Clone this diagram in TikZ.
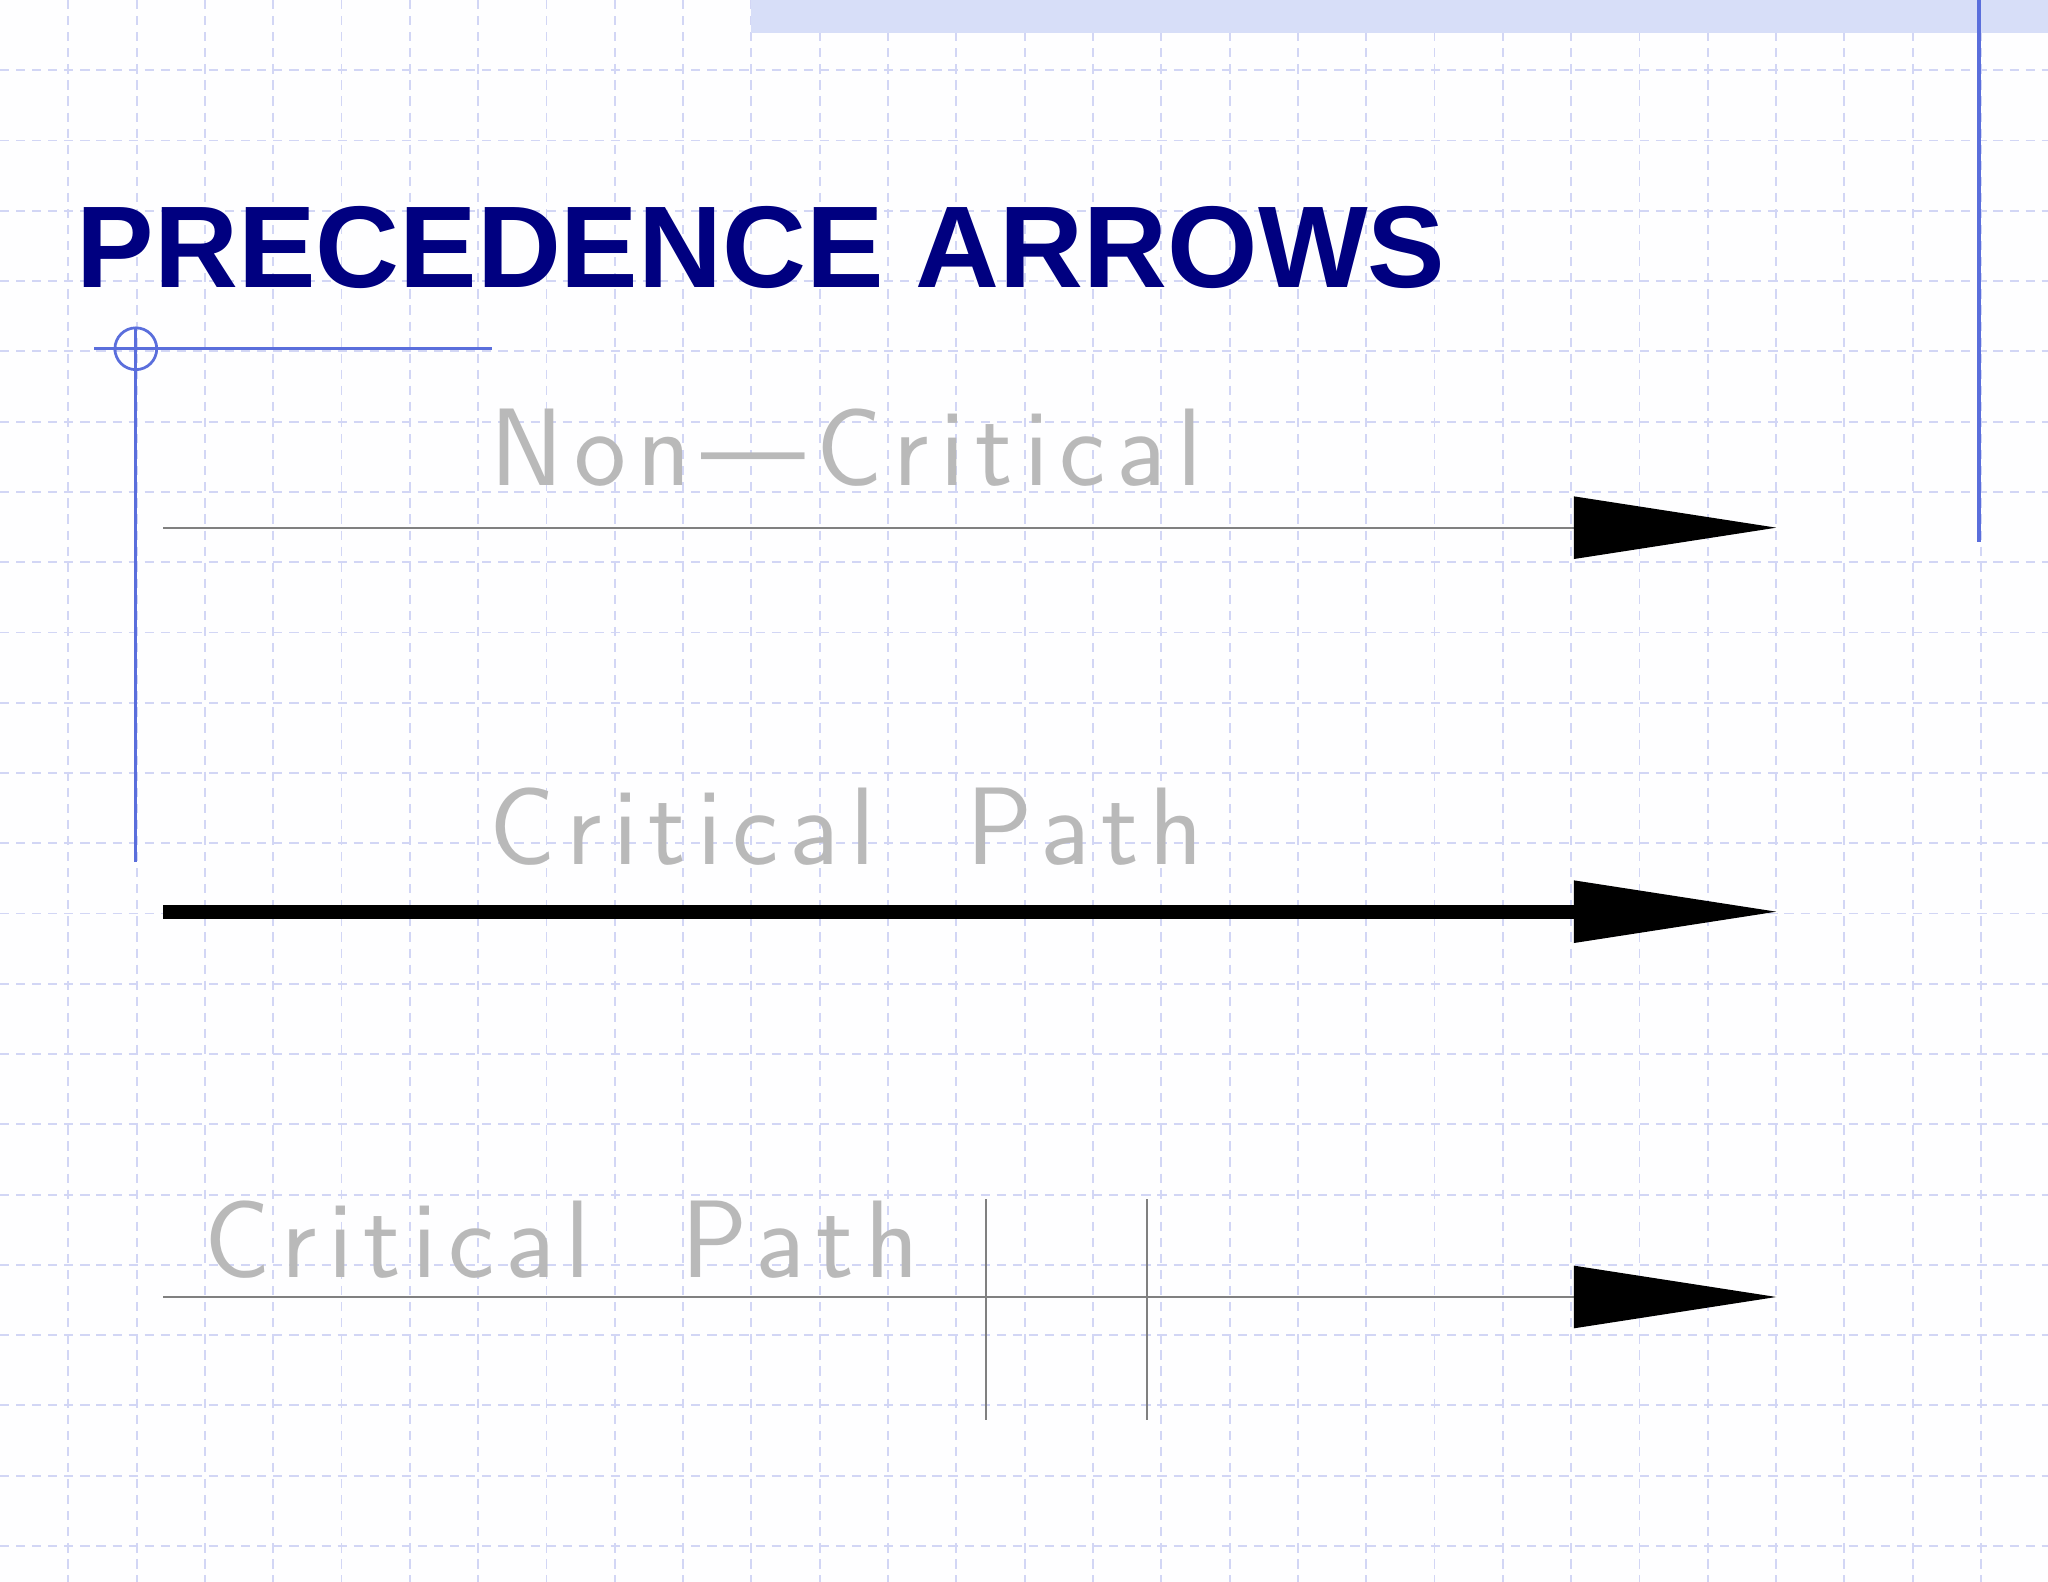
\documentclass[tikz,border=0pt]{standalone}
\usepackage{fontspec}
\setmainfont{Liberation Sans}
\newfontfamily\cad[LetterSpace=10]{Latin Modern Sans}
\definecolor{gridc}{RGB}{210,214,245}
\definecolor{navy}{RGB}{0,0,128}
\definecolor{deco}{RGB}{90,110,220}
\definecolor{band}{RGB}{215,222,248}
\definecolor{txt}{RGB}{185,185,185}
\tikzset{
  gridline/.style={gridc, dash pattern=on 2pt off 1.5pt, line width=0.4pt},
  thinarrow/.style={gray, line width=0.4pt},
  head/.style={fill=black, draw=none},
  cadtext/.style={txt, font=\cad\fontsize{24}{24}\selectfont, anchor=base, inner sep=0},
}
\begin{document}
\begin{tikzpicture}[x=0.01cm,y=-0.01cm]
\useasboundingbox (0,0) rectangle (1568,1211);
\fill[white!97!gridc] (0,0) rectangle (1568,1211);
\foreach \i in {1,...,29} \draw[gridline] (\i*52.3,0) -- (\i*52.3,1211);
\foreach \j in {1,...,22} \draw[gridline] (0,\j*53.8) -- (1568,\j*53.8);
\fill[band] (575,0) rectangle (1568,25);
\draw[deco, line width=0.8pt] (1515,0) -- (1515,415);
\node[navy, font=\fontsize{25.3}{25.3}\selectfont\bfseries, anchor=base west, inner sep=0] (title) at (58,220) {PRECEDENCE ARROWS};
\draw[deco, line width=0.6pt] (72,267) -- (377,267);
\draw[deco, line width=0.6pt] (104,250) -- (104,660);
\draw[deco, line width=0.6pt] (104,267) circle (16);
\coordinate (a1s) at (125,404); \coordinate (a1e) at (1205,404);
\draw[thinarrow] (a1s) -- (a1e);
\fill[head] (1205,380) -- (1360,404) -- (1205,428) -- cycle;
\node[cadtext] (t1) at (648,372) {Non—Critical};
\coordinate (a2s) at (125,698); \coordinate (a2e) at (1210,698);
\draw[black, line width=3pt] (a2s) -- (a2e);
\fill[head] (1205,674) -- (1360,698) -- (1205,722) -- cycle;
\node[cadtext] (t2) at (648,662) {Critical\ \ Path};
\coordinate (a3s) at (125,993); \coordinate (a3e) at (1205,993);
\draw[thinarrow] (a3s) -- (a3e);
\fill[head] (1205,969) -- (1360,993) -- (1205,1017) -- cycle;
\node[cadtext] (t3) at (430,978) {Critical\ \ Path};
\coordinate (k1a) at (755,918); \coordinate (k1b) at (755,1087);
\coordinate (k2a) at (878,918); \coordinate (k2b) at (878,1087);
\draw[thinarrow] (k1a) -- (k1b);
\draw[thinarrow] (k2a) -- (k2b);
\end{tikzpicture}
\end{document}
